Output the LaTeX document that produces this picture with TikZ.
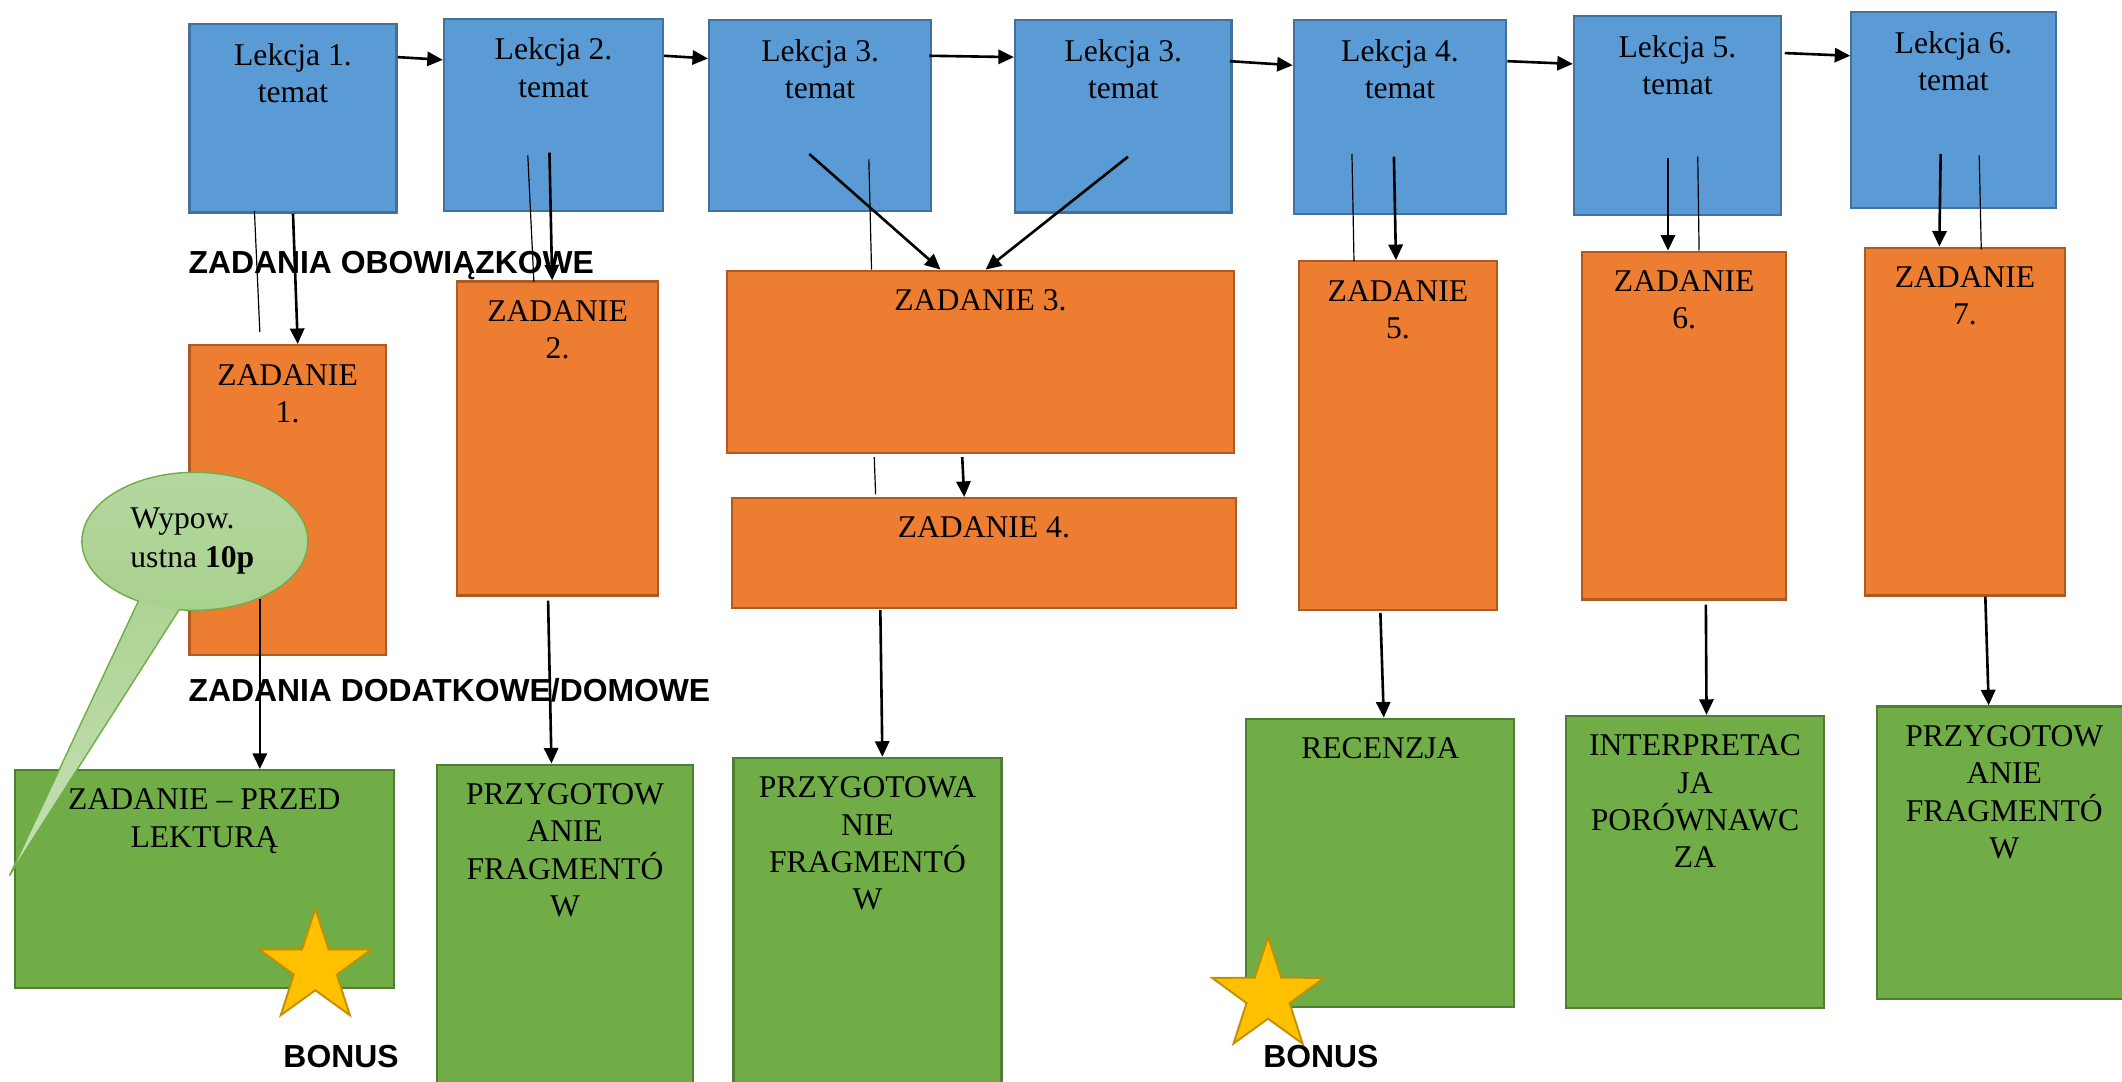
\documentclass[tikz,border=0pt]{standalone}
\usepackage{fontspec}
\setmainfont{Liberation Serif}
\setsansfont{Liberation Sans}
\usetikzlibrary{arrows.meta,calc,fit,shapes.geometric}

\definecolor{lekfill}{HTML}{5B9BD5}
\definecolor{lekline}{HTML}{41719C}
\definecolor{zadfill}{HTML}{ED7D31}
\definecolor{zadline}{HTML}{AE5A21}
\definecolor{domfill}{HTML}{70AD47}
\definecolor{domline}{HTML}{507E32}
\definecolor{dymfill}{HTML}{A9D18E}
\definecolor{dymgora}{HTML}{B4D7A0}
\definecolor{dymogon}{HTML}{C5E0B4}
\definecolor{dymline}{HTML}{70AD47}
\definecolor{gwfill}{HTML}{FFC000}
\definecolor{gwline}{HTML}{BF9000}

\tikzset{
  lekcja/.style={draw=lekline, fill=lekfill, line width=0.9pt, inner sep=0pt},
  zadanie/.style={draw=zadline, fill=zadfill, line width=0.9pt, inner sep=0pt},
  domowe/.style={draw=domline, fill=domfill, line width=0.9pt, inner sep=0pt},
  tytul/.style={anchor=north, align=center, inner sep=0pt, yshift=-2.9mm,
    font=\fontsize{13.3}{15.7}\selectfont},
  naglowek/.style={anchor=base west, inner sep=0pt,
    font=\fontsize{13.4}{16}\selectfont\sffamily\bfseries},
  strz/.style={-{Triangle[length=2.3mm,width=2.1mm]}, line width=1.1pt},
  cienka/.style={line width=0.5pt},
  dymkontur/.style={draw=dymline, line width=0.6pt},
  gwiazda/.style={star, star points=5, star point ratio=2.6, draw=gwline, fill=gwfill,
    line width=0.8pt, inner sep=0pt, minimum size=17.4mm},
}

\begin{document}
\begin{tikzpicture}[x=0.2mm, y=-0.2mm]
		%%%%% START %%%%%
		\useasboundingbox (0,0) rectangle (1568,799);
		\clip (0,0) rectangle (1568,799);

		% lekcje
		\node[lekcja, fit={(140,18) (293,157)}, label={[tytul]north:Lekcja 1.\\temat}] (lek1) {};
		\node[lekcja, fit={(328,14) (490,156)}, label={[tytul]north:Lekcja 2.\\temat}] (lek2) {};
		\node[lekcja, fit={(524,15) (688,156)}, label={[tytul]north:Lekcja 3.\\temat}] (lek3) {};
		\node[lekcja, fit={(750,15) (910,157)}, label={[tytul]north:Lekcja 3.\\temat}] (lek3b) {};
		\node[lekcja, fit={(956,15) (1113,158)}, label={[tytul]north:Lekcja 4.\\temat}] (lek4) {};
		\node[lekcja, fit={(1163,12) (1316,159)}, label={[tytul]north:Lekcja 5.\\temat}] (lek5) {};
		\node[lekcja, fit={(1368,9) (1519,154)}, label={[tytul]north:Lekcja 6.\\temat}] (lek6) {};

		% zadania obowiazkowe
		\node[zadanie, fit={(140,255) (285,484)}, label={[tytul]north:ZADANIE\\1.}] (zad1) {};
		\node[zadanie, fit={(338,208) (486,440)}, label={[tytul]north:ZADANIE\\2.}] (zad2) {};
		\node[zadanie, fit={(537,200) (912,335)}, label={[tytul]north:ZADANIE 3.}] (zad3) {};
		\node[zadanie, fit={(541,368) (913,449)}, label={[tytul]north:ZADANIE 4.}] (zad4) {};
		\node[zadanie, fit={(960,193) (1106,451)}, label={[tytul]north:ZADANIE\\5.}] (zad5) {};
		\node[zadanie, fit={(1169,186) (1320,443)}, label={[tytul]north:ZADANIE\\6.}] (zad6) {};
		\node[zadanie, fit={(1378,183) (1526,440)}, label={[tytul]north:ZADANIE\\7.}] (zad7) {};

		% zadania domowe
		\node[domowe, fit={(11,569) (291,730)}, label={[tytul]north:ZADANIE – PRZED\\LEKTURĄ}] (dom1) {};
		\node[domowe, fit={(323,565) (512,806)}, label={[tytul]north:PRZYGOTOW\\ANIE\\FRAGMENTÓ\\W}] (dom2) {};
		\node[domowe, fit={(542,560) (740,806)}, label={[tytul]north:PRZYGOTOWA\\NIE\\FRAGMENTÓ\\W}] (dom3) {};
		\node[domowe, fit={(921,531) (1119,744)}, label={[tytul]north:RECENZJA}] (dom4) {};
		\node[domowe, fit={(1157,529) (1348,745)}, label={[tytul]north:INTERPRETAC\\JA\\PORÓWNAWC\\ZA}] (dom5) {};
		\node[domowe, fit={(1387,522) (1575,738)}, label={[tytul]north:PRZYGOTOW\\ANIE\\FRAGMENTÓ\\W}] (dom6) {};

		% naglowki
		\node[naglowek] (obow) at (139,202) {ZADANIA OBOWIĄZKOWE};
		\node[naglowek] (dodat) at (139,518) {ZADANIA DODATKOWE/DOMOWE};

		% strzalki miedzy lekcjami
		\draw[strz] ($(lek1.north east)+(0,25)$) -- ($(lek2.north west)+(0,31)$);
		\draw[strz] ($(lek2.north east)+(0,28)$) -- ($(lek3.north west)+(0,29)$);
		\draw[strz] ($(lek3.north east)+(-2,27)$) -- ($(lek3b.north west)+(0,28)$);
		\draw[strz] ($(lek3b.north east)+(-2,31)$) -- ($(lek4.north west)+(0,34)$);
		\draw[strz] ($(lek4.north east)+(0,31)$) -- ($(lek5.north west)+(0,36)$);
		\draw[strz] ($(lek5.north east)+(2,28)$) -- ($(lek6.north west)+(0,33)$);

		% lekcje -> zadania
		\draw[strz] (lek1.south) -- ($(zad1.north)+(7.5,0)$);
		\draw[strz] ($(lek2.south)+(-3,-44)$) -- ($(zad2.north)+(-4,0)$);
		\draw[strz] ($(lek3.south)+(-8,-43)$) -- ($(zad3.north)+(-29.5,0)$);
		\draw[strz] ($(lek3b.south)+(3.5,-42)$) -- ($(zad3.north)+(3.8,0)$);
		\draw[strz] ($(lek4.south)+(-4.5,-43)$) -- ($(zad5.north)+(-1.5,0)$);
		\draw[strz] ($(lek5.south)+(-7,-43)$) -- ($(zad6.north)+(-12,0)$);
		\draw[strz] ($(lek6.south)+(-9.5,-41)$) -- ($(zad7.north)+(-19,0)$);
		\draw[strz] ($(zad3.south)+(-13.5,2)$) -- ($(zad4.north)+(-14.5,0)$);

		% zadania -> domowe
		\draw[strz] ($(zad1.south)+(-20.5,-42)$) -- ($(dom1.north)+(41,0)$);
		\draw[strz] ($(zad2.south)+(-7,3)$) -- ($(dom2.north)+(-10,0)$);
		\draw[strz] ($(zad4.south)+(-76.5,1)$) -- ($(dom3.north)+(11,0)$);
		\draw[strz] ($(zad5.south)+(-13,1)$) -- ($(dom4.north)+(2.5,0)$);
		\draw[strz] ($(zad6.south)+(16,3)$) -- ($(dom5.north)+(8.5,0)$);
		\draw[strz] ($(zad7.south)+(15,0)$) -- ($(dom6.north)+(-11.5,0)$);

		% cienkie linie
		\draw[cienka] ($(lek1.south)+(-28.5,-2)$) -- ($(zad1.north)+(-20.5,-9)$);
		\draw[cienka] ($(lek2.south)+(-19,-42)$) -- ($(zad2.north)+(-17.5,1)$);
		\draw[cienka] ($(lek3.south)+(36,-39)$) -- ($(zad3.north)+(-80.5,0)$);
		\draw[cienka] ($(lek4.south)+(-35.5,-45)$) -- ($(zad5.north)+(-32.5,1)$);
		\draw[cienka] ($(lek5.south)+(15,-44)$) -- ($(zad6.north)+(11,0)$);
		\draw[cienka] ($(lek6.south)+(19,-40)$) -- ($(zad7.north)+(12,2)$);
		\draw[cienka] ($(zad3.south)+(-78.5,2)$) -- ($(zad4.north)+(-80,-2)$);

		% dymek
		\coordinate (dym) at (144,400);
		\coordinate (ogon) at (7,647);
		\shade[top color=dymfill, bottom color=dymogon] ($(dym)+(240:16.7mm and 10.2mm)$) -- (ogon) -- ($(dym)+(262:16.7mm and 10.2mm)$) -- (dym) -- cycle;
		\shade[top color=dymgora, bottom color=dymfill] (dym) ellipse [x radius=16.7mm, y radius=10.2mm];
		\draw[dymkontur] ($(dym)+(262:16.7mm and 10.2mm)$) arc[start angle=262, end angle=600, x radius=16.7mm, y radius=10.2mm] -- (ogon) -- cycle;
		\node[anchor=north west, align=left, inner sep=0pt, font=\fontsize{13.3}{16.4}\selectfont] (dymtxt) at (96,374.5) {Wypow.\\ustna \textbf{10p}};

		% gwiazdki
		\node[gwiazda] (gw1) at (233,715) {};
		\node[gwiazda] (gw2) at (937,736) {};
		\node[naglowek, anchor=base] (bonus1) at (252,789) {BONUS};
		\node[naglowek, anchor=base] (bonus2) at (976,789) {BONUS};
		%%%%% END %%%%%
\end{tikzpicture}
\end{document}
